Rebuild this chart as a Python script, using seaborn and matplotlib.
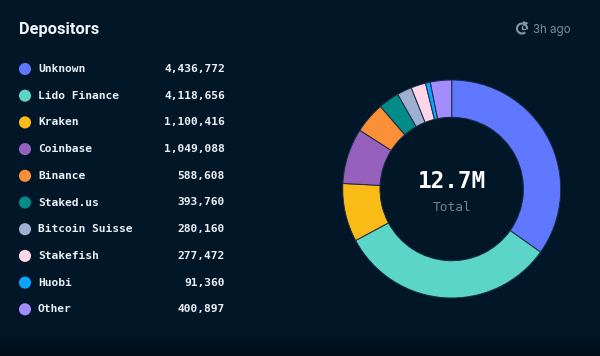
import numpy as np
import pandas as pd
import matplotlib
matplotlib.use("Agg")
import matplotlib.pyplot as plt
from matplotlib.patches import Arc, Polygon
import seaborn as sns

names = ["Unknown", "Lido Finance", "Kraken", "Coinbase", "Binance",
         "Staked.us", "Bitcoin Suisse", "Stakefish", "Huobi", "Other"]
deposits = [4436772, 4118656, 1100416, 1049088, 588608,
            393760, 280160, 277472, 91360, 400897]
colors = ["#6078FF", "#5AD5C8", "#F9BC17", "#9561BD", "#FB9039",
          "#018C8A", "#9EB0D0", "#FFD6E8", "#0AA5FF", "#A28CFF"]

BG = "#011627"
MONO = "DejaVu Sans Mono"

sns.set_theme(style="dark", rc={"figure.facecolor": BG, "axes.facecolor": BG})
df = pd.DataFrame({"name": names, "deposits": deposits, "row": range(len(names))})

W, H = 600, 356
fig = plt.figure(figsize=(W / 100, H / 100), dpi=100)

# background, a bit darker at the very bottom
bg = fig.add_axes([0, 0, 1, 1])
grad = np.linspace(0, 1, 30).reshape(-1, 1)
bg.imshow(grad, extent=[0, W, 356, 334], aspect="auto", cmap=matplotlib.colors.LinearSegmentedColormap.from_list("b", [BG, "#000E1A"]))
bg.set_xlim(0, W)
bg.set_ylim(H, 0)
bg.axis("off")

# donut
cx, cy, r = 451.7, 189, 109
ax = fig.add_axes([(cx - r) / W, (H - cy - r) / H, 2 * r / W, 2 * r / H])
ax.pie(df.deposits, colors=colors, startangle=90, counterclock=False, radius=1,
       wedgeprops={"width": 0.342, "edgecolor": "#1b2a45", "linewidth": 0.7})
ax.set_xlim(-1, 1)
ax.set_ylim(-1, 1)
ax.patch.set_alpha(0)
ax.text(0, 0.07, "12.7M", color="white", family=MONO, weight="bold", fontsize=16.3, ha="center", va="center")
ax.text(0, -0.17, "Total", color="#71808E", family=MONO, fontsize=9.3, ha="center", va="center")

# legend rows, y is the row number
leg = fig.add_axes([0, 0, 1, 1])
leg.patch.set_alpha(0)
first, step = 69, 26.7
sns.scatterplot(data=df, x=[25] * len(df), y="row", hue="name", palette=colors,
                s=76, linewidth=0, legend=False, ax=leg)
leg.set_xlim(0, W)
leg.set_ylim((H - first) / step, -first / step)
leg.axis("off")
for i, row in df.iterrows():
    leg.text(38, i, row["name"], color="#EAF0F5", family=MONO, weight="bold", fontsize=8.15, va="center")
    leg.text(225, i, f"{row['deposits']:,}", color="#EAF0F5", family=MONO, weight="bold", fontsize=8.15, va="center", ha="right")

# header, in pixel coordinates
top = fig.add_axes([0, 0, 1, 1])
top.patch.set_alpha(0)
top.set_xlim(0, W)
top.set_ylim(H, 0)
top.axis("off")
top.text(19, 29.5, "Depositors", color="#F2F5F8", family="Roboto", weight="bold", fontsize=11.8, va="center")
top.text(533, 29.5, "3h ago", color="#7D8C9B", family="Inter", fontsize=8.3, va="center")
top.add_patch(Arc((522, 28.5), 10, 10, theta1=-310, theta2=10, color="#8A98A6", lw=1.5))
top.add_patch(Polygon([[523, 21], [528.5, 23], [523.5, 26.5]], color="#8A98A6", lw=0))
top.plot([521.5, 521.5, 524.5], [25.5, 29, 29], color="#8A98A6", lw=1)

fig.savefig("out.png", dpi=100, facecolor=BG)
